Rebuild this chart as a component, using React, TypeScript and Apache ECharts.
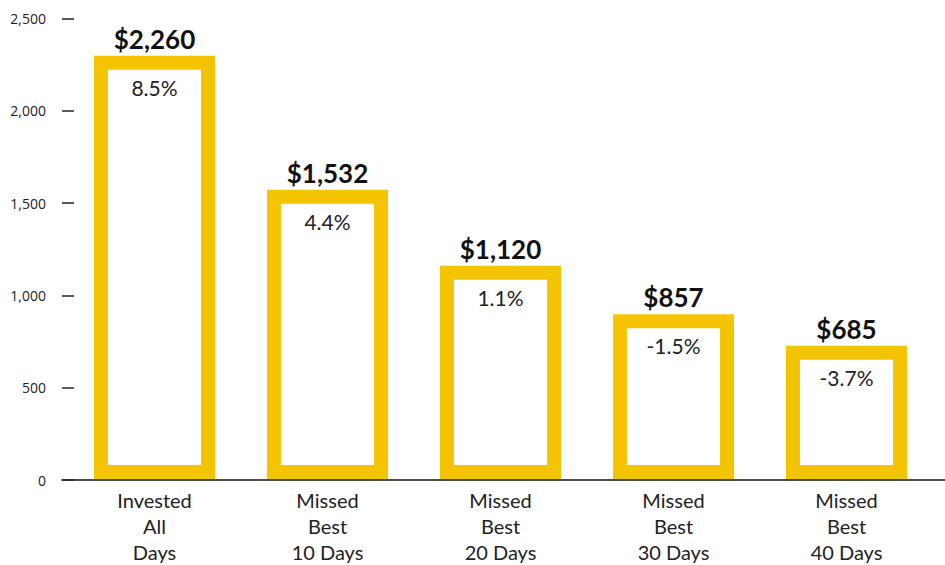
import React, { useEffect, useRef } from "react";
import * as echarts from "echarts";

const categories = [
  "Invested\nAll\nDays",
  "Missed\nBest\n10 Days",
  "Missed\nBest\n20 Days",
  "Missed\nBest\n30 Days",
  "Missed\nBest\n40 Days",
];
const endingValues = [2260, 1532, 1120, 857, 685];
const annualReturns = ["8.5%", "4.4%", "1.1%", "-1.5%", "-3.7%"];
const yTicks = { min: 0, max: 2500, interval: 500 };

const YELLOW = "#F5C400";
const FONT = "Lato, 'Open Sans', sans-serif";

export default function App() {
  const ref = useRef<HTMLDivElement>(null);
  useEffect(() => {
    if (!ref.current) return;
    const chart = echarts.init(ref.current, null, { renderer: "svg" });
    const bw = 14;
    chart.setOption({
      animation: false,
      grid: [
        { left: 68, right: 12, top: 18.5, bottom: 85 },
        { left: 62, right: 0, top: 18.5, bottom: 85 },
      ],
      xAxis: [
        {
          gridIndex: 0,
          type: "category",
          data: categories,
          axisLine: { show: false },
          axisTick: { show: false },
          axisLabel: {
            fontFamily: FONT,
            fontSize: 20,
            lineHeight: 26,
            color: "#222",
            margin: 8,
            interval: 0,
          },
        },
        {
          gridIndex: 1,
          type: "value",
          min: 0,
          max: 1,
          axisLine: { show: true, lineStyle: { color: "#111", width: 1.5 } },
          axisTick: { show: false },
          axisLabel: { show: false },
          splitLine: { show: false },
        },
      ],
      yAxis: [
        {
          gridIndex: 0,
          type: "value",
          min: yTicks.min,
          max: yTicks.max,
          interval: yTicks.interval,
          show: false,
        },
        {
          gridIndex: 1,
          type: "value",
          min: yTicks.min,
          max: yTicks.max,
          interval: yTicks.interval,
          axisLine: { show: false },
          axisTick: {
            show: true,
            inside: true,
            length: 12,
            lineStyle: { color: "#222", width: 1.5 },
          },
          splitLine: { show: false },
          axisLabel: {
            fontFamily: "'Open Sans', sans-serif",
            fontSize: 14,
            color: "#222",
            margin: 16,
            formatter: (v: number) => v.toLocaleString("en-US"),
          },
        },
      ],
      series: [
        {
          type: "custom",
          xAxisIndex: 0,
          yAxisIndex: 0,
          data: endingValues.map((v, i) => [i, v]),
          renderItem: (params: any, api: any) => {
            const i = api.value(0);
            const v = api.value(1);
            const top = api.coord([i, v]);
            const base = api.coord([i, 0]);
            const w = api.size([1, 0])[0] * 0.7;
            return {
              type: "group",
              children: [
                {
                  type: "rect",
                  shape: {
                    x: top[0] - w / 2 + bw / 2,
                    y: top[1],
                    width: w - bw,
                    height: base[1] - bw / 2 - top[1],
                  },
                  style: { fill: "#fff", stroke: YELLOW, lineWidth: bw },
                },
                {
                  type: "text",
                  style: {
                    text: "$" + v.toLocaleString("en-US"),
                    x: top[0],
                    y: top[1] - bw / 2 - 4,
                    align: "center",
                    verticalAlign: "bottom",
                    fontFamily: FONT,
                    fontSize: 26,
                    fontWeight: "bold",
                    fill: "#111",
                  },
                },
                {
                  type: "text",
                  style: {
                    text: annualReturns[params.dataIndex],
                    x: top[0],
                    y: top[1] + bw / 2 + 7,
                    align: "center",
                    verticalAlign: "top",
                    fontFamily: FONT,
                    fontSize: 21,
                    fill: "#222",
                  },
                },
              ],
            };
          },
        },
      ],
    });
    return () => chart.dispose();
  }, []);
  return <div ref={ref} style={{ width: 945, height: 565, position: "absolute", left: 0, top: 0 }} />;
}
